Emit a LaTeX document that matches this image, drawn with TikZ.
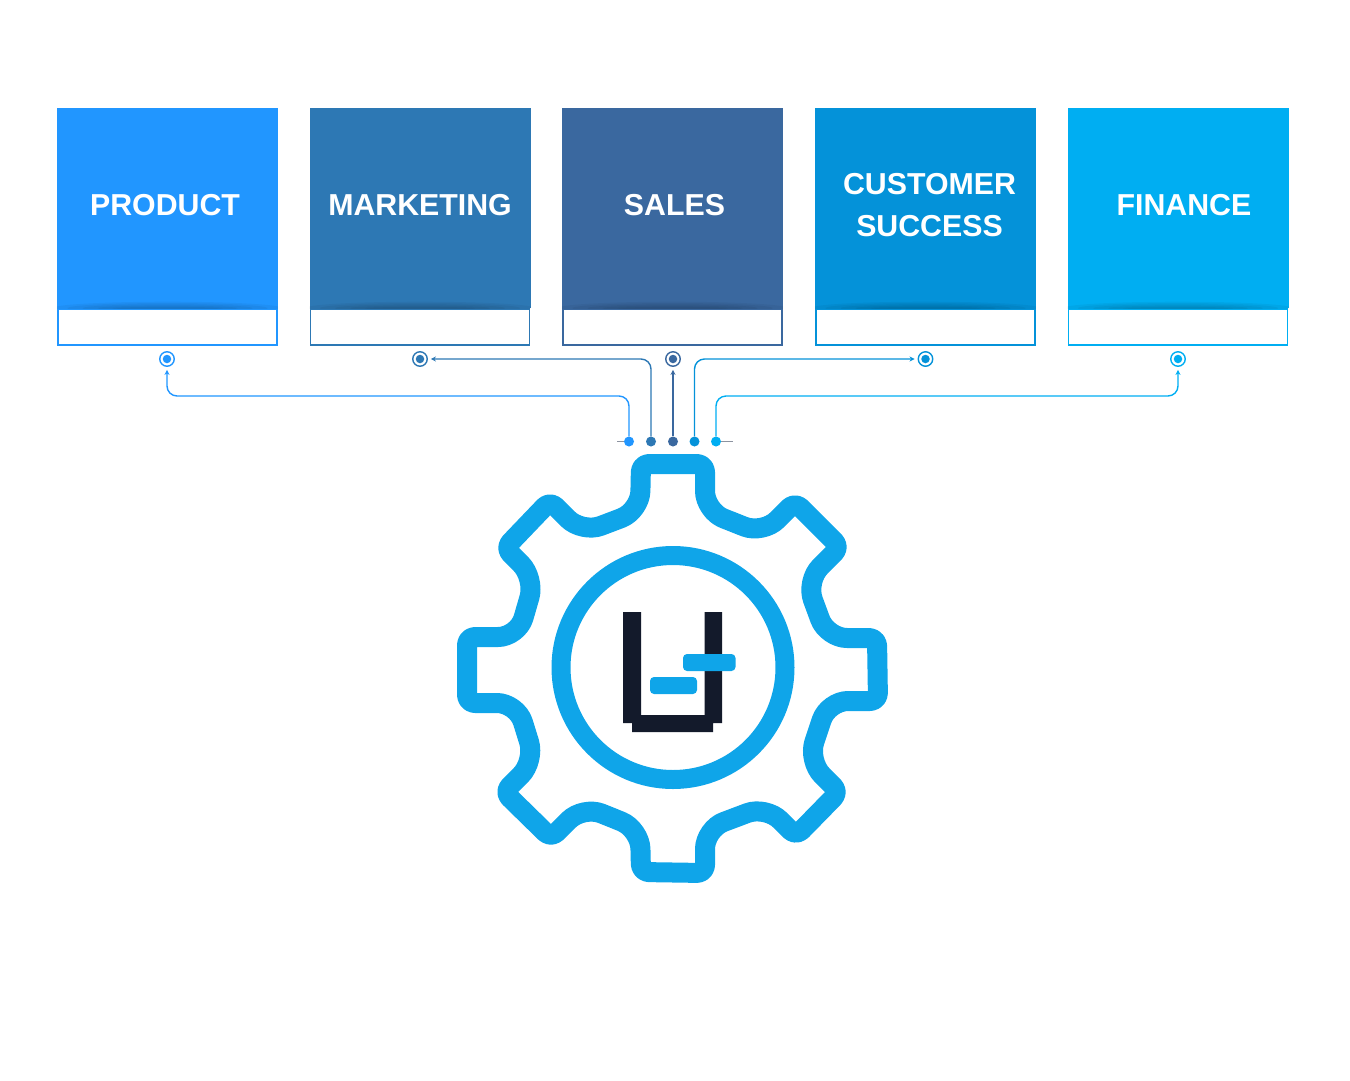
\documentclass[tikz,border=0pt]{standalone}
\usepackage{fontspec}
\setmainfont{Liberation Sans}
\usetikzlibrary{positioning,arrows.meta}
\definecolor{productblue}{HTML}{2196FF}
\definecolor{marketingblue}{HTML}{2D78B4}
\definecolor{salesblue}{HTML}{3A689F}
\definecolor{customerblue}{HTML}{0492D9}
\definecolor{financeblue}{HTML}{00AEF2}
\definecolor{gearblue}{HTML}{0FA5E9}
\definecolor{logodark}{HTML}{131A2B}
\definecolor{stubgrey}{HTML}{8C93A0}
\tikzset{
	unithead/.style={rectangle, inner sep=0pt, minimum width=221pt, minimum height=200pt, fill=#1},
	unitfoot/.style={rectangle, inner sep=0pt, minimum width=219pt, minimum height=36pt, fill=white, draw=#1, line width=1.8pt},
	unitlabel/.style={text=white, font=\bfseries\fontsize{30.3}{30.3}\selectfont, inner sep=0pt},
	portring/.style={circle, inner sep=0pt, minimum size=14.5pt, fill=white, draw=#1, line width=1.4pt},
	portcore/.style={circle, inner sep=0pt, minimum size=8.5pt, fill=#1},
	sourcedot/.style={circle, inner sep=0pt, minimum size=10pt, fill=#1},
	wire/.style={draw=#1, line width=1.4pt, rounded corners=10pt, -{Stealth[length=5pt,width=5pt]}, shorten >=3pt},
	logopart/.style={rectangle, inner sep=0pt, rounded corners=4pt, fill=gearblue},
}
\begin{document}
\begin{tikzpicture}[x=1pt,y=-1pt]
	\useasboundingbox (0,0) rectangle (1350,1080);

	% unit boxes
	\node[unithead=productblue] (producthead) at (167.5,208) {};
	\node[unithead=marketingblue] (marketinghead) at (420,208) {};
	\node[unithead=salesblue] (saleshead) at (672.5,208) {};
	\node[unithead=customerblue] (customerhead) at (925.5,208) {};
	\node[unithead=financeblue] (financehead) at (1178,208) {};
	\node[unitfoot=productblue, below=-0.5pt of producthead] (productfoot) {};
	\node[unitfoot=marketingblue, below=-0.5pt of marketinghead] (marketingfoot) {};
	\node[unitfoot=salesblue, below=-0.5pt of saleshead] (salesfoot) {};
	\node[unitfoot=customerblue, below=-0.5pt of customerhead] (customerfoot) {};
	\node[unitfoot=financeblue, below=-0.5pt of financehead] (financefoot) {};

	% shadow under the coloured part
	\foreach \n in {producthead,marketinghead,saleshead,customerhead,financehead}{
		\begin{scope}
			\clip (\n.south west) rectangle (\n.north east);
			\foreach \k in {1,...,5}
				\fill[black,opacity=0.045] (\n.south) ellipse [x radius={40pt+\k*15pt}, y radius={\k*1.3pt}];
		\end{scope}
	}

	% unit labels
	\node[unitlabel] (productlabel) at (165,205) {PRODUCT};
	\node[unitlabel] (marketinglabel) at (420,205) {MARKETING};
	\node[unitlabel] (saleslabel) at (674.5,205) {SALES};
	\node[unitlabel] (customerlabel) at (929.5,184) {CUSTOMER};
	\node[unitlabel] (successlabel) at (929.5,226) {SUCCESS};
	\node[unitlabel] (financelabel) at (1184,205) {FINANCE};

	% target rings
	\node[portring=productblue] (productring) at (167,359) {};
	\node[portring=marketingblue] (marketingring) at (420,359) {};
	\node[portring=salesblue] (salesring) at (673,359) {};
	\node[portring=customerblue] (customerring) at (925.5,359) {};
	\node[portring=financeblue] (financering) at (1178,359) {};
	\node[portcore=productblue] (productcore) at (productring) {};
	\node[portcore=marketingblue] (marketingcore) at (marketingring) {};
	\node[portcore=salesblue] (salescore) at (salesring) {};
	\node[portcore=customerblue] (customercore) at (customerring) {};
	\node[portcore=financeblue] (financecore) at (financering) {};

	% source dots
	\node[sourcedot=productblue] (productsource) at (629,441.5) {};
	\node[sourcedot=marketingblue] (marketingsource) at (651,441.5) {};
	\node[sourcedot=salesblue] (salessource) at (673,441.5) {};
	\node[sourcedot=customerblue] (customersource) at (694.5,441.5) {};
	\node[sourcedot=financeblue] (financesource) at (716,441.5) {};
	\coordinate (stubleft) at (617,441.5);
	\coordinate (stubright) at (733,441.5);
	\draw[stubgrey, line width=1pt] (stubleft) -- (productsource);
	\draw[stubgrey, line width=1pt] (financesource) -- (stubright);

	% connectors
	\draw[wire=productblue] (productsource) -- ++(0,-45.5) -| (productring);
	\draw[wire=marketingblue] (marketingsource) |- (marketingring);
	\draw[wire=salesblue] (salessource) -- (salesring);
	\draw[wire=customerblue] (customersource) |- (customerring);
	\draw[wire=financeblue] (financesource) -- ++(0,-45.5) -| (financering);

	% gear outline
	\draw[gearblue, line width=20pt, line join=round]
		  (673,464)
		  [rounded corners=8pt]
		  -- (705,464)
		  [rounded corners=20pt]
		  -- (705,511)
		  -- (763,534)
		  [rounded corners=8pt]
		  -- (795,502)
		  -- (840,547)
		  [rounded corners=20pt]
		  -- (806,581)
		  -- (827,638)
		  [rounded corners=8pt]
		  -- (877,638)
		  -- (878,701)
		  [rounded corners=20pt]
		  -- (828,701)
		  -- (808,761)
		  [rounded corners=8pt]
		  -- (839,792)
		  -- (796,836)
		  [rounded corners=20pt]
		  -- (766,806)
		  -- (705,829)
		  [rounded corners=8pt]
		  -- (705,873)
		  -- (641,872)
		  [rounded corners=20pt]
		  -- (640,829)
		  -- (583,806)
		  [rounded corners=8pt]
		  -- (551,838)
		  -- (504,792)
		  [rounded corners=20pt]
		  -- (535,761)
		  -- (517,703)
		  [rounded corners=8pt]
		  -- (467,703)
		  -- (467,637)
		  [rounded corners=20pt]
		  -- (518,637)
		  -- (535,578)
		  [rounded corners=8pt]
		  -- (505,548)
		  -- (550,501)
		  [rounded corners=20pt]
		  -- (582,533)
		  -- (640,511)
		  [rounded corners=8pt]
		  -- (641,464)
		  -- cycle;
	% gear ring
	\draw[gearblue, line width=19pt] (673,667.5) circle [radius=112pt];

	% logo
	\fill[logodark] (623,612) -- (641,612) -- (641,715) -- (704.5,715) -- (704.5,612) -- (722,612)
		  -- (722,723) -- (713,723) -- (713,732) -- (632,732) -- (632,723) -- (623,723) -- cycle;
	\node[logopart, minimum width=52.5pt, minimum height=17pt] (logoupper) at (709.25,662.5) {};
	\node[logopart, minimum width=47pt, minimum height=17pt] (logolower) at (673.5,685.5) {};
\end{tikzpicture}
\end{document}
